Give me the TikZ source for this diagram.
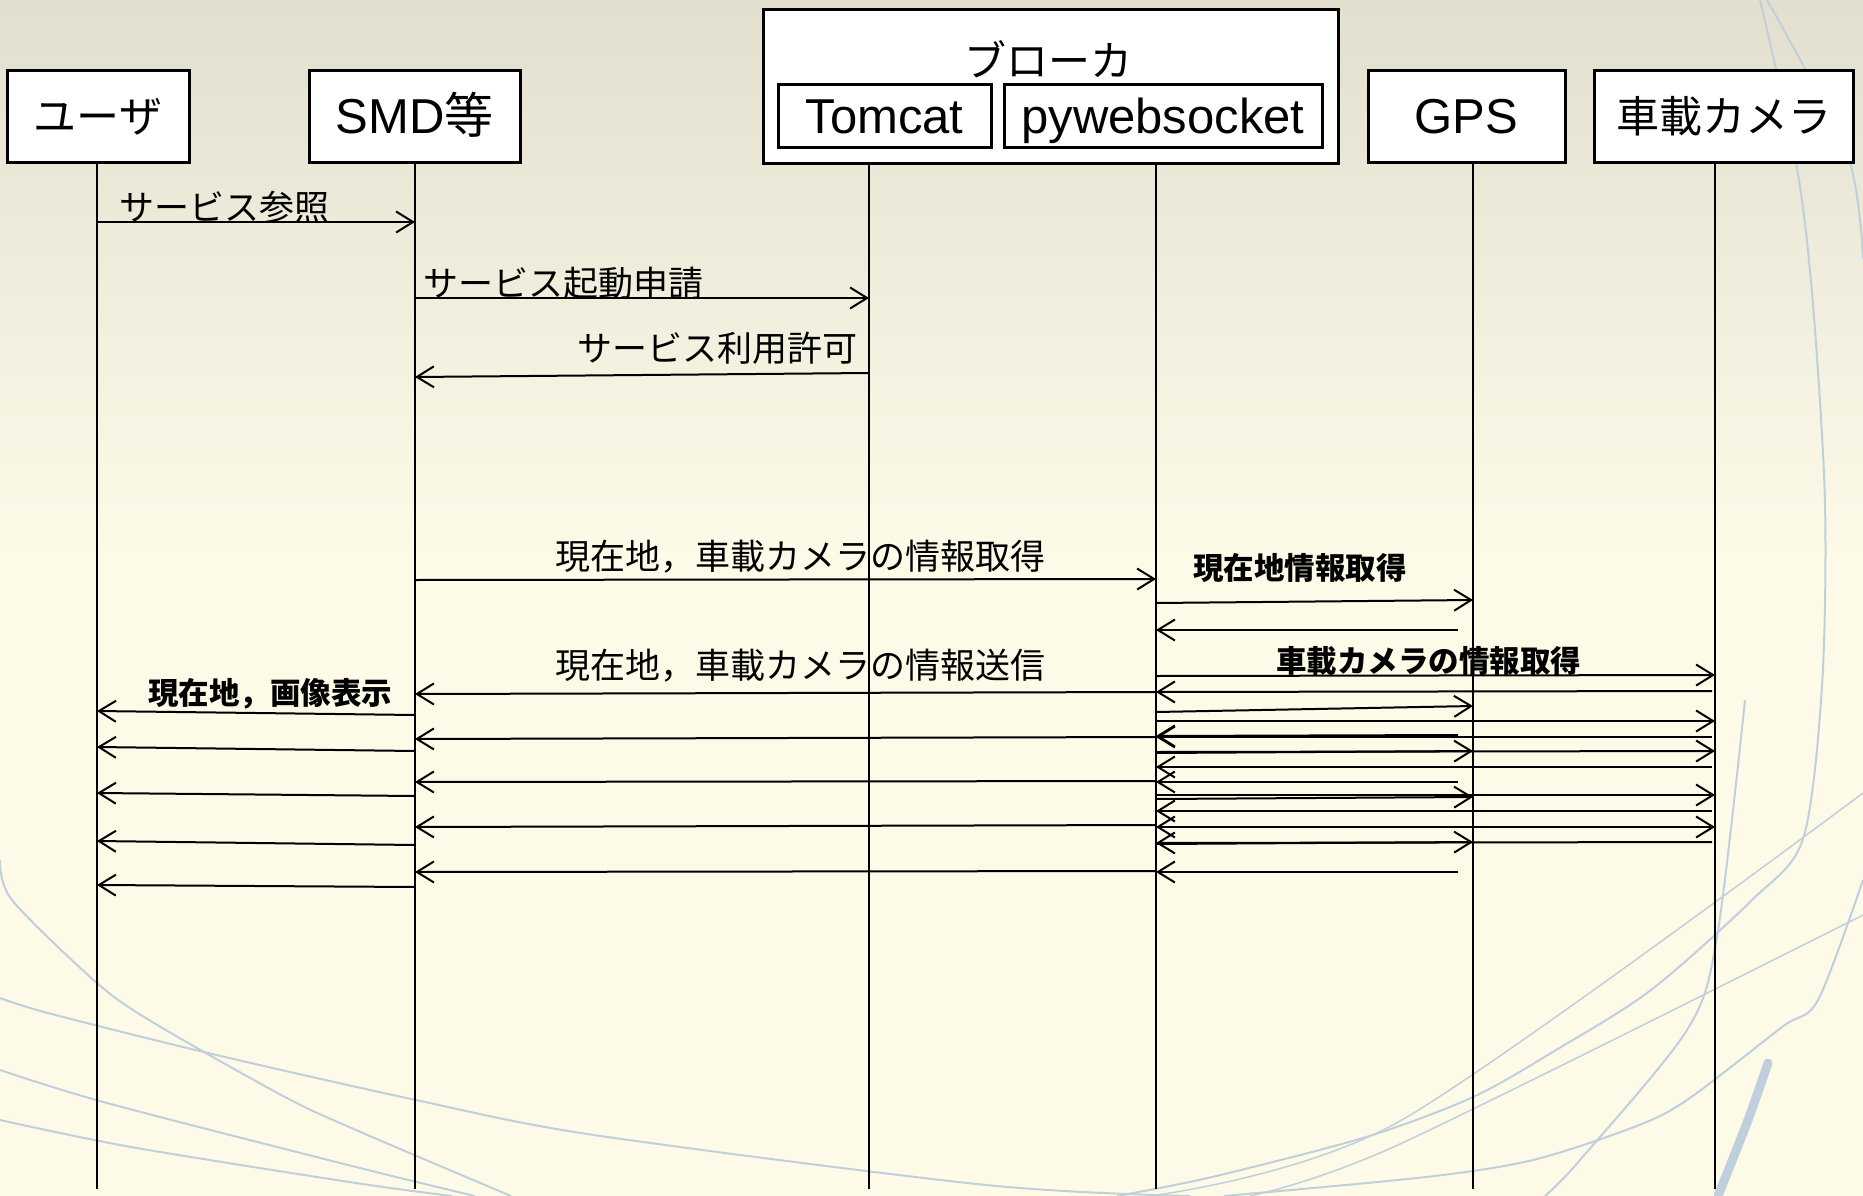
\documentclass[tikz,border=0pt]{standalone}
\usepackage{fontspec}
\setmainfont{Liberation Sans}
\newfontfamily\jp{Noto Sans CJK JP}
\usetikzlibrary{arrows.meta,calc}
\definecolor{cream}{HTML}{FDFBE8}
\definecolor{paper}{HTML}{E2DFCF}
\definecolor{curveblue}{HTML}{BFD0DC}
\begin{document}
\begin{tikzpicture}[x=1pt,y=-1pt,
  box/.style={draw=black,line width=3pt,fill=white,inner sep=0pt},
  hjp/.style={font=\jp\fontsize{43}{48}\selectfont,text height=37.8pt,text depth=5.2pt},
  hlat/.style={font=\fontsize{49}{54}\selectfont,text height=35pt,text depth=0pt},
  life/.style={line width=2pt},
  lifeb/.style={line width=2.6pt},
  msg/.style={line width=2pt,-{Straight Barb[length=17pt,width=21pt]}},
  jl/.style={font=\jp\fontsize{35}{40}\selectfont,inner sep=0pt,text height=30.8pt,text depth=4.2pt},
  jb/.style={font=\jp\bfseries\fontsize{30.5}{35}\selectfont,inner sep=0pt,text height=26.8pt,text depth=3.7pt},
  bg/.style={curveblue,line width=2pt}
]
% background
\useasboundingbox (0,0) rectangle (1863,1196);
\fill[cream] (0,0) rectangle (1863,1196);
\shade[top color=paper,bottom color=cream] (0,0) rectangle (1863,560);
\draw[bg] plot[smooth] coordinates {(0,860) (12,900) (97,983) (154,1023) (285,1097) (356,1130) (511,1196)};
\draw[bg] plot[smooth] coordinates {(0,998) (48,1013) (208,1053) (416,1100) (594,1135) (986,1185) (1190,1196)};
\draw[bg] plot[smooth] coordinates {(0,1070) (107,1103) (356,1167) (475,1196)};
\draw[bg] plot[smooth] coordinates {(0,1120) (131,1147) (356,1183) (452,1196)};
\draw[bg] plot[smooth] coordinates {(1760,0) (1797,168) (1813,305) (1825,503) (1822,686) (1803,839) (1752,900) (1651,990) (1556,1050) (1473,1097) (1366,1137) (1212,1177) (1117,1196)};
\draw[bg] plot[smooth] coordinates {(1767,0) (1847,153) (1863,259)};
\draw[bg] plot[smooth] coordinates {(1745,700) (1717,937) (1687,1030) (1580,1160) (1545,1196)};
\draw[bg] plot[smooth] coordinates {(1863,880) (1818,1000) (1782,1027) (1687,1100) (1634,1127) (1533,1160) (1426,1177) (1224,1196)};
\draw[bg,line width=1.5pt] plot[smooth] coordinates {(1150,1196) (1400,1121) (1863,793)};
\draw[bg,line width=1.5pt] plot[smooth] coordinates {(1250,1196) (1400,1144) (1863,915)};
\draw[curveblue,line width=9pt,line cap=round] plot[smooth] coordinates {(1768,1063) (1748,1120) (1718,1196)};

% header boxes
\node[box,hjp,minimum width=182pt,minimum height=91pt] (user) at (98,116.5) {ユーザ};
\node[box,hlat,minimum width=211pt,minimum height=91pt] (smd) at (414.5,116.5) {SMD{\jp 等}};
\node[box,minimum width=575pt,minimum height=153pt] (broker) at (1050.5,86.5) {};
\node[hjp,font=\jp\fontsize{42}{48}\selectfont,inner sep=0pt] (brokerlabel) at (1048,60) {ブローカ};
\node[box,hlat,minimum width=213pt,minimum height=63pt] (tomcat) at (884.5,116.5) {Tomcat};
\node[box,hlat,minimum width=318pt,minimum height=63pt] (pyws) at (1163,116.5) {pywebsocket};
\node[box,hlat,minimum width=197pt,minimum height=91pt] (gps) at (1466.5,116.5) {GPS};
\node[box,hjp,minimum width=259pt,minimum height=91pt] (cam) at (1723.5,116.5) {車載カメラ};

% lifelines
\coordinate (uT) at (97,163);   \coordinate (uB) at (97,1189);
\coordinate (sT) at (415,163);  \coordinate (sB) at (415,1189);
\coordinate (tT) at (869,163);  \coordinate (tB) at (869,1189);
\coordinate (wT) at (1156,163); \coordinate (wB) at (1156,1189);
\coordinate (gT) at (1473,163); \coordinate (gB) at (1473,1189);
\coordinate (cT) at (1715,163); \coordinate (cB) at (1715,1189);
\draw[life] (uT) -- (uB);
\draw[lifeb] (sT) -- (sB);
\draw[life] (tT) -- (tB);
\draw[lifeb] (wT) -- (wB);
\draw[life] (gT) -- (gB);
\draw[life] (cT) -- (cB);

% messages
\draw[msg] (uT |- 0,222) -- (sT |- 0,222);
\node[jl,anchor=west] (l1) at (119,207) {サービス参照};
\draw[msg] (sT |- 0,298) -- (tT |- 0,298);
\node[jl,anchor=west] (l2) at (423,283) {サービス起動申請};
\draw[msg] (tT |- 0,373) -- (sT |- 0,377);
\node[jl,anchor=east] (l3) at (858,348) {サービス利用許可};
\draw[msg] (sT |- 0,580) -- (wT |- 0,579);
\node[jl] (l4) at (800,556) {現在地，車載カメラの情報取得};
\node[jl] (l5) at (800,665) {現在地，車載カメラの情報送信};

% GPS
\node[jb,anchor=west] (l6) at (1193,568) {現在地情報取得};
\draw[msg] (wT |- 0,603) -- (gT |- 0,600);
\draw[msg] ($(gT |- 0,630)+(-15,0)$) -- (wT |- 0,630);
\draw[msg] (wT |- 0,712) -- (gT |- 0,706);
\draw[msg] ($(gT |- 0,735)+(-15,0)$) -- (wT |- 0,736);
\draw[msg] (wT |- 0,753) -- (gT |- 0,751);
\draw[msg] ($(gT |- 0,782)+(-15,0)$) -- (wT |- 0,782);
\draw[msg] (wT |- 0,799) -- (gT |- 0,797);
\draw[msg] ($(gT |- 0,827)+(-15,0)$) -- (wT |- 0,827);
\draw[msg] (wT |- 0,844) -- (gT |- 0,842);
\draw[msg] ($(gT |- 0,872)+(-15,0)$) -- (wT |- 0,872);

% camera
\node[jb,anchor=west] (l7) at (1276,661) {車載カメラの情報取得};
\draw[msg] (wT |- 0,676) -- (cT |- 0,675);
\draw[msg] ($(cT |- 0,691)+(-3,0)$) -- (wT |- 0,692);
\draw[msg] (wT |- 0,721) -- (cT |- 0,721);
\draw[msg] ($(cT |- 0,737)+(-3,0)$) -- (wT |- 0,737);
\draw[msg] (wT |- 0,752) -- (cT |- 0,751);
\draw[msg] ($(cT |- 0,767)+(-3,0)$) -- (wT |- 0,767);
\draw[msg] (wT |- 0,795) -- (cT |- 0,795);
\draw[msg] ($(cT |- 0,811)+(-3,0)$) -- (wT |- 0,811);
\draw[msg] (wT |- 0,827) -- (cT |- 0,827);
\draw[msg] ($(cT |- 0,842)+(-3,0)$) -- (wT |- 0,843);

% pywebsocket -> SMD
\draw[msg] (wT |- 0,692) -- (sT |- 0,694);
\draw[msg] (wT |- 0,737) -- (sT |- 0,739);
\draw[msg] (wT |- 0,781) -- (sT |- 0,782);
\draw[msg] (wT |- 0,825) -- (sT |- 0,827);
\draw[msg] (wT |- 0,871) -- (sT |- 0,872);

% SMD -> user
\node[jb] (l8) at (270,693) {現在地，画像表示};
\draw[msg] (sT |- 0,715) -- (uT |- 0,711);
\draw[msg] (sT |- 0,751) -- (uT |- 0,747);
\draw[msg] (sT |- 0,796) -- (uT |- 0,793);
\draw[msg] (sT |- 0,845) -- (uT |- 0,841);
\draw[msg] (sT |- 0,887) -- (uT |- 0,885);
\end{tikzpicture}
\end{document}
